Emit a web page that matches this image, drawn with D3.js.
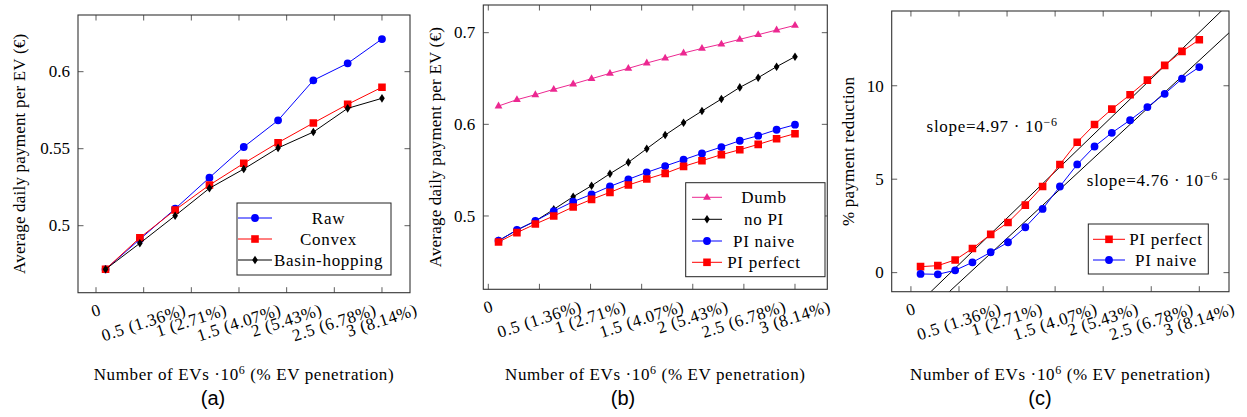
<!DOCTYPE html>
<html><head><meta charset="utf-8">
<script src="https://cdn.jsdelivr.net/npm/d3@7/dist/d3.min.js"></script>
<style>body{margin:0;background:#fff}</style>
</head><body>
<svg id="chart" width="1247" height="417" xmlns="http://www.w3.org/2000/svg"></svg>
<script>
// ---------- data ----------
const xTickValues = [0, 0.5, 1, 1.5, 2, 2.5, 3];
const xTickLabels = ["0", "0.5 (1.36%)", "1 (2.71%)", "1.5 (4.07%)", "2 (5.43%)", "2.5 (6.78%)", "3 (8.14%)"];

// panel (a)
const evA = [0.1, 0.46, 0.83, 1.19, 1.55, 1.91, 2.28, 2.64, 3.0];
const rawA = [0.4717, 0.4912, 0.511, 0.5312, 0.5511, 0.5684, 0.5944, 0.6054, 0.6212];
const convexA = [0.4717, 0.4922, 0.5102, 0.5264, 0.5405, 0.5539, 0.5667, 0.5788, 0.5899];
const basinA = [0.4717, 0.4886, 0.5065, 0.5243, 0.5368, 0.5505, 0.5608, 0.5762, 0.5827];
const yTicksA = [0.5, 0.55, 0.6];
const yTickLabelsA = ["0.5", "0.55", "0.6"];

// panel (b)
const evB = [0.1, 0.28, 0.46, 0.64, 0.83, 1.01, 1.19, 1.37, 1.55, 1.73, 1.91, 2.09, 2.28, 2.46, 2.64, 2.82, 3.0];
const dumbB = [0.620, 0.6269, 0.6323, 0.6382, 0.644, 0.6498, 0.6556, 0.6611, 0.6669, 0.6723, 0.6778, 0.6828, 0.6876, 0.6927, 0.6978, 0.7029, 0.708];
const noPIB = [0.473, 0.4847, 0.4945, 0.5072, 0.521, 0.533, 0.5461, 0.5585, 0.5734, 0.5883, 0.6018, 0.6145, 0.6276, 0.6403, 0.6509, 0.6629, 0.6738];
const piNaiveB = [0.473, 0.4847, 0.4945, 0.5054, 0.5156, 0.5236, 0.5323, 0.54, 0.5476, 0.5545, 0.5614, 0.5683, 0.5752, 0.5821, 0.5876, 0.5941, 0.5996];
const piPerfectB = [0.4716, 0.4818, 0.4912, 0.5, 0.5098, 0.5181, 0.5258, 0.5338, 0.5403, 0.5465, 0.5541, 0.5603, 0.5669, 0.5723, 0.5781, 0.5843, 0.5898];
const yTicksB = [0.5, 0.6, 0.7];
const yTickLabelsB = ["0.5", "0.6", "0.7"];

// panel (c)
const evC = [0.1, 0.28, 0.46, 0.64, 0.83, 1.01, 1.19, 1.37, 1.55, 1.73, 1.91, 2.09, 2.28, 2.46, 2.64, 2.82, 3.0];
const piPerfectC = [0.32, 0.375, 0.68, 1.29, 2.05, 2.68, 3.61, 4.61, 5.79, 6.98, 7.93, 8.75, 9.52, 10.3, 11.09, 11.84, 12.46];
const piNaiveC = [-0.07, -0.09, 0.125, 0.55, 1.09, 1.625, 2.43, 3.41, 4.61, 5.79, 6.75, 7.48, 8.16, 8.86, 9.57, 10.375, 11.0];
const fitSlopes = [4.97, 4.76];
const fitIntercepts = [-2.05, -2.92];
const fitLabels = ["slope=4.97 · 10", "slope=4.76 · 10"];
const fitLabelExp = "−6";
const fitLabelAt = [[0.163, 7.54], [1.83, 4.66]];
const yTicksC = [0, 5, 10];
const yTickLabelsC = ["0", "5", "10"];

// ---------- drawing ----------
const svg = d3.select("#chart");
const SERIF = "Liberation Serif";
const FS = 17;
const C = {blue: "#0000ff", red: "#ff0000", black: "#000000", pink: "#ec2891"};

function txt(sel, ls) {
  return sel.append("text").attr("font-family", SERIF).attr("font-size", FS)
    .attr("letter-spacing", ls || 0).attr("fill", "#000");
}

function markerPath(type) {
  if (type === "circle") return d3.symbol(d3.symbolCircle, Math.PI * 3.9 * 3.9)();
  if (type === "square") return "M-3.8,-3.8H3.8V3.8H-3.8Z";
  if (type === "diamond") return "M0,-4.3L2.8,0L0,4.3L-2.8,0Z";
  if (type === "triangle") return "M0,-4.4L3.9,2.4L-3.9,2.4Z";
}

function addXTitle(g, cx, y) {
  const t = txt(g, 0.62).attr("x", cx).attr("y", y).attr("text-anchor", "middle");
  t.append("tspan").text("Number of EVs ·10");
  t.append("tspan").attr("dy", -6).attr("font-size", 12).text("6");
  t.append("tspan").attr("dy", 6).text(" (% EV penetration)");
}

let clipId = 0;
function panel(cfg) {
  const g = svg.append("g");
  const {x0, x1, y0, y1} = cfg.box;
  const x = d3.scaleLinear().domain(cfg.xDomain).range([x0, x1]);
  const y = d3.scaleLinear().domain(cfg.yDomain).range([y1, y0]);
  const id = "clip" + (clipId++);
  g.append("clipPath").attr("id", id).append("rect")
    .attr("x", x0).attr("y", y0).attr("width", x1 - x0).attr("height", y1 - y0);

  // ticks (inside, all four sides)
  const tl = 5.5;
  const tk = g.append("g").attr("stroke", "#333").attr("stroke-width", 0.8);
  xTickValues.forEach(v => {
    tk.append("line").attr("x1", x(v)).attr("x2", x(v)).attr("y1", y1).attr("y2", y1 - tl);
    tk.append("line").attr("x1", x(v)).attr("x2", x(v)).attr("y1", y0).attr("y2", y0 + tl);
  });
  cfg.yTicks.forEach(v => {
    tk.append("line").attr("x1", x0).attr("x2", x0 + tl).attr("y1", y(v)).attr("y2", y(v));
    tk.append("line").attr("x1", x1).attr("x2", x1 - tl).attr("y1", y(v)).attr("y2", y(v));
  });

  // y tick labels
  cfg.yTicks.forEach((v, i) => {
    txt(g).attr("x", x0 - 8).attr("y", y(v)).attr("dy", "0.34em")
      .attr("text-anchor", "end").text(cfg.yTickLabels[i]);
  });

  // x tick labels rotated
  const ang = 18 * Math.PI / 180;
  xTickValues.forEach((v, i) => {
    const t = txt(g, 0.6).attr("text-anchor", "middle").attr("dominant-baseline", "central")
      .text(xTickLabels[i]);
    const w = t.node().getComputedTextLength();
    const h = FS * 0.8;
    const bh = w * Math.sin(ang) + h * Math.cos(ang);
    const cy = y1 + 10 + bh / 2;
    t.attr("transform", `translate(${x(v)},${cy}) rotate(-18)`);
  });

  const plot = g.append("g").attr("clip-path", `url(#${id})`);
  if (cfg.fits) {
    cfg.fits.forEach(f => {
      const xs = cfg.xDomain;
      plot.append("line").attr("x1", x(xs[0])).attr("y1", y(f.m * xs[0] + f.b))
        .attr("x2", x(xs[1])).attr("y2", y(f.m * xs[1] + f.b))
        .attr("stroke", "#000").attr("stroke-width", 1);
    });
  }
  const line = d3.line().x(d => x(d[0])).y(d => y(d[1]));
  cfg.series.forEach(s => {
    const pts = s.x.map((xv, i) => [xv, s.y[i]]);
    plot.append("path").attr("d", line(pts)).attr("fill", "none")
      .attr("stroke", s.color).attr("stroke-width", 1);
    plot.selectAll(null).data(pts).enter().append("path")
      .attr("d", markerPath(s.marker)).attr("fill", s.color)
      .attr("transform", d => `translate(${x(d[0])},${y(d[1])})`);
  });

  // frame
  g.append("rect").attr("x", x0).attr("y", y0).attr("width", x1 - x0).attr("height", y1 - y0)
    .attr("fill", "none").attr("stroke", "#333").attr("stroke-width", 1.1);

  // annotations
  if (cfg.notes) {
    cfg.notes.forEach(n => {
      const t = txt(g, 0.7).attr("x", x(n.at[0])).attr("y", y(n.at[1]));
      t.append("tspan").text(n.text);
      t.append("tspan").attr("dy", -6).attr("font-size", 12).text(n.exp);
    });
  }

  // legend
  const L = cfg.legend;
  g.append("rect").attr("x", L.x0).attr("y", L.y0).attr("width", L.x1 - L.x0).attr("height", L.y1 - L.y0)
    .attr("fill", "#fff").attr("stroke", "#222").attr("stroke-width", 1);
  cfg.series.forEach((s, i) => {
    const ry = L.rows[i];
    g.append("line").attr("x1", L.sx0).attr("x2", L.sx1).attr("y1", ry).attr("y2", ry)
      .attr("stroke", s.color).attr("stroke-width", 1);
    g.append("path").attr("d", markerPath(s.marker)).attr("fill", s.color)
      .attr("transform", `translate(${(L.sx0 + L.sx1) / 2},${ry})`);
    txt(g, 0.7).attr("x", L.tx).attr("y", ry).attr("dy", "0.34em").attr("text-anchor", "middle").text(s.name);
  });

  // y title
  txt(g, 0.2).attr("transform", `translate(${cfg.yTitleX},${(y0 + y1) / 2}) rotate(-90)`)
    .attr("text-anchor", "middle").attr("dominant-baseline", "central").text(cfg.yTitle);

  addXTitle(g, (x0 + x1) / 2, 380);

  g.append("text").attr("x", cfg.captionX).attr("y", 405).attr("text-anchor", "middle")
    .attr("font-family", "Liberation Sans").attr("font-size", 20).text(cfg.caption);
}

panel({
  box: {x0: 78, x1: 410, y0: 15, y1: 292.7},
  xDomain: [-0.189, 3.294], yDomain: [0.4565, 0.6368],
  yTicks: yTicksA, yTickLabels: yTickLabelsA,
  series: [
    {name: "Raw", x: evA, y: rawA, color: C.blue, marker: "circle"},
    {name: "Convex", x: evA, y: convexA, color: C.red, marker: "square"},
    {name: "Basin-hopping", x: evA, y: basinA, color: C.black, marker: "diamond"}
  ],
  legend: {x0: 237, x1: 391, y0: 203, y1: 275, rows: [218, 239, 260], sx0: 238, sx1: 272, tx: 328.5},
  yTitle: "Average daily payment per EV (€)", yTitleX: 19.5,
  caption: "(a)", captionX: 213
});

panel({
  box: {x0: 483.3, x1: 827.3, y0: 5, y1: 289.3},
  xDomain: [-0.049, 3.316], yDomain: [0.42, 0.7302],
  yTicks: yTicksB, yTickLabels: yTickLabelsB,
  series: [
    {name: "Dumb", x: evB, y: dumbB, color: C.pink, marker: "triangle"},
    {name: "no PI", x: evB, y: noPIB, color: C.black, marker: "diamond"},
    {name: "PI naive", x: evB, y: piNaiveB, color: C.blue, marker: "circle"},
    {name: "PI perfect", x: evB, y: piPerfectB, color: C.red, marker: "square"}
  ],
  legend: {x0: 685.7, x1: 825, y0: 182.7, y1: 276.7, rows: [197.3, 219.3, 241, 262.3], sx0: 692, sx1: 722, tx: 764},
  yTitle: "Average daily payment per EV (€)", yTitleX: 435,
  caption: "(b)", captionX: 623
});

panel({
  box: {x0: 891.7, x1: 1229, y0: 11, y1: 291.7},
  xDomain: [-0.2, 3.309], yDomain: [-1.02, 14.0],
  yTicks: yTicksC, yTickLabels: yTickLabelsC,
  series: [
    {name: "PI perfect", x: evC, y: piPerfectC, color: C.red, marker: "square"},
    {name: "PI naive", x: evC, y: piNaiveC, color: C.blue, marker: "circle"}
  ],
  fits: fitSlopes.map((m, i) => ({m: m, b: fitIntercepts[i]})),
  notes: fitLabels.map((t, i) => ({text: t, exp: fitLabelExp, at: fitLabelAt[i]})),
  legend: {x0: 1088.3, x1: 1208.3, y0: 224, y1: 274, rows: [239.3, 260], sx0: 1093, sx1: 1125, tx: 1166},
  yTitle: "% payment reduction", yTitleX: 848,
  caption: "(c)", captionX: 1040
});
</script>
</body></html>
